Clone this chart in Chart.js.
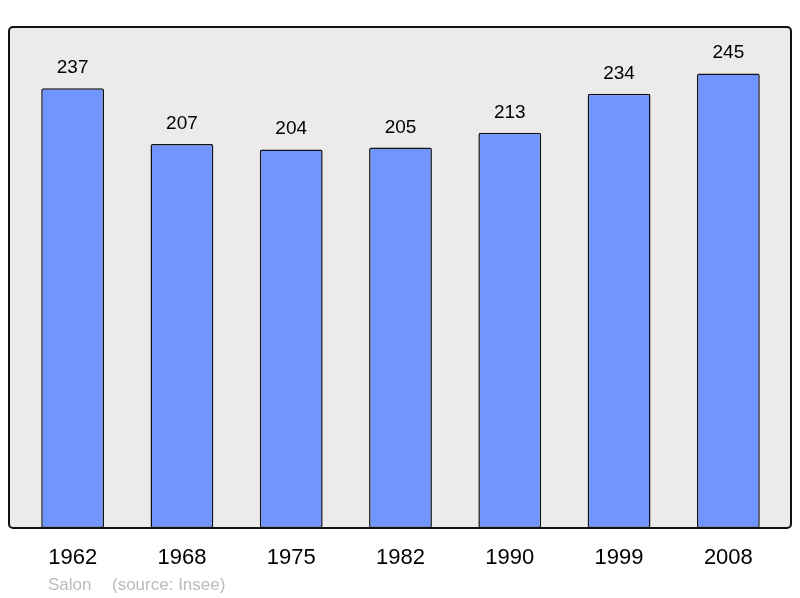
<!DOCTYPE html>
<html>
<head>
  <title>Salon population</title>
  <style>
    body { margin: 0; background: #fff; }
    #wrap { width: 800px; height: 598px; }
  </style>
</head>
<body>
  <div id="wrap"><canvas id="chart" width="800" height="598"></canvas></div>
  <script src="https://cdn.jsdelivr.net/npm/chart.js"></script>
  <script>
    // data
    const years = ["1962", "1968", "1975", "1982", "1990", "1999", "2008"];
    const population = [237, 207, 204, 205, 213, 234, 245];
    const yMax = 270;

    const font = "'Liberation Sans', Arial, sans-serif";

    // gray framed box behind the bars
    const boxPlugin = {
      id: "box",
      beforeDraw(chart) {
        const ctx = chart.ctx, a = chart.chartArea;
        ctx.save();
        ctx.fillStyle = "#fff";
        ctx.fillRect(0, 0, chart.width, chart.height);
        ctx.beginPath();
        ctx.roundRect(a.left - 9, a.top, a.right - a.left + 17, a.bottom - a.top, 4);
        ctx.fillStyle = "#ebebeb";
        ctx.fill();
        ctx.restore();
      },
      afterDraw(chart) {
        const ctx = chart.ctx, a = chart.chartArea;
        ctx.save();
        ctx.beginPath();
        ctx.roundRect(a.left - 9, a.top, a.right - a.left + 17, a.bottom - a.top, 4);
        ctx.lineWidth = 2;
        ctx.strokeStyle = "#111";
        ctx.stroke();
        // footer
        ctx.fillStyle = "#bbbbbb";
        ctx.font = "17px " + font;
        ctx.textBaseline = "alphabetic";
        ctx.fillText("Salon", 48, 590);
        ctx.fillText("(source: Insee)", 112, 590);
        ctx.restore();
      }
    };

    // numbers above each bar
    const valuePlugin = {
      id: "values",
      afterDatasetsDraw(chart) {
        const ctx = chart.ctx;
        const meta = chart.getDatasetMeta(0);
        ctx.save();
        ctx.fillStyle = "#000";
        ctx.font = "19px " + font;
        ctx.textAlign = "center";
        ctx.textBaseline = "alphabetic";
        meta.data.forEach((bar, i) => {
          ctx.fillText(population[i], bar.x, bar.y - 15);
        });
        ctx.restore();
      }
    };

    new Chart(document.getElementById("chart"), {
      type: "bar",
      data: {
        labels: years,
        datasets: [{
          data: population,
          backgroundColor: "#7095ff",
          borderColor: "#111",
          borderWidth: 1.5,
          borderRadius: 2,
          borderSkipped: false,
          barPercentage: 0.575,
          categoryPercentage: 1
        }]
      },
      options: {
        responsive: false,
        animation: false,
        layout: { padding: { top: 27, left: 18, right: 17, bottom: 0 } },
        plugins: { legend: { display: false }, tooltip: { enabled: false } },
        scales: {
          x: {
            grid: { display: false },
            border: { display: false },
            ticks: { color: "#000", font: { size: 22, family: font }, padding: 9, maxRotation: 0 },
            afterFit(scale) { scale.height = 70; }
          },
          y: { display: false, min: 0, max: yMax }
        }
      },
      plugins: [boxPlugin, valuePlugin]
    });
  </script>
</body>
</html>
